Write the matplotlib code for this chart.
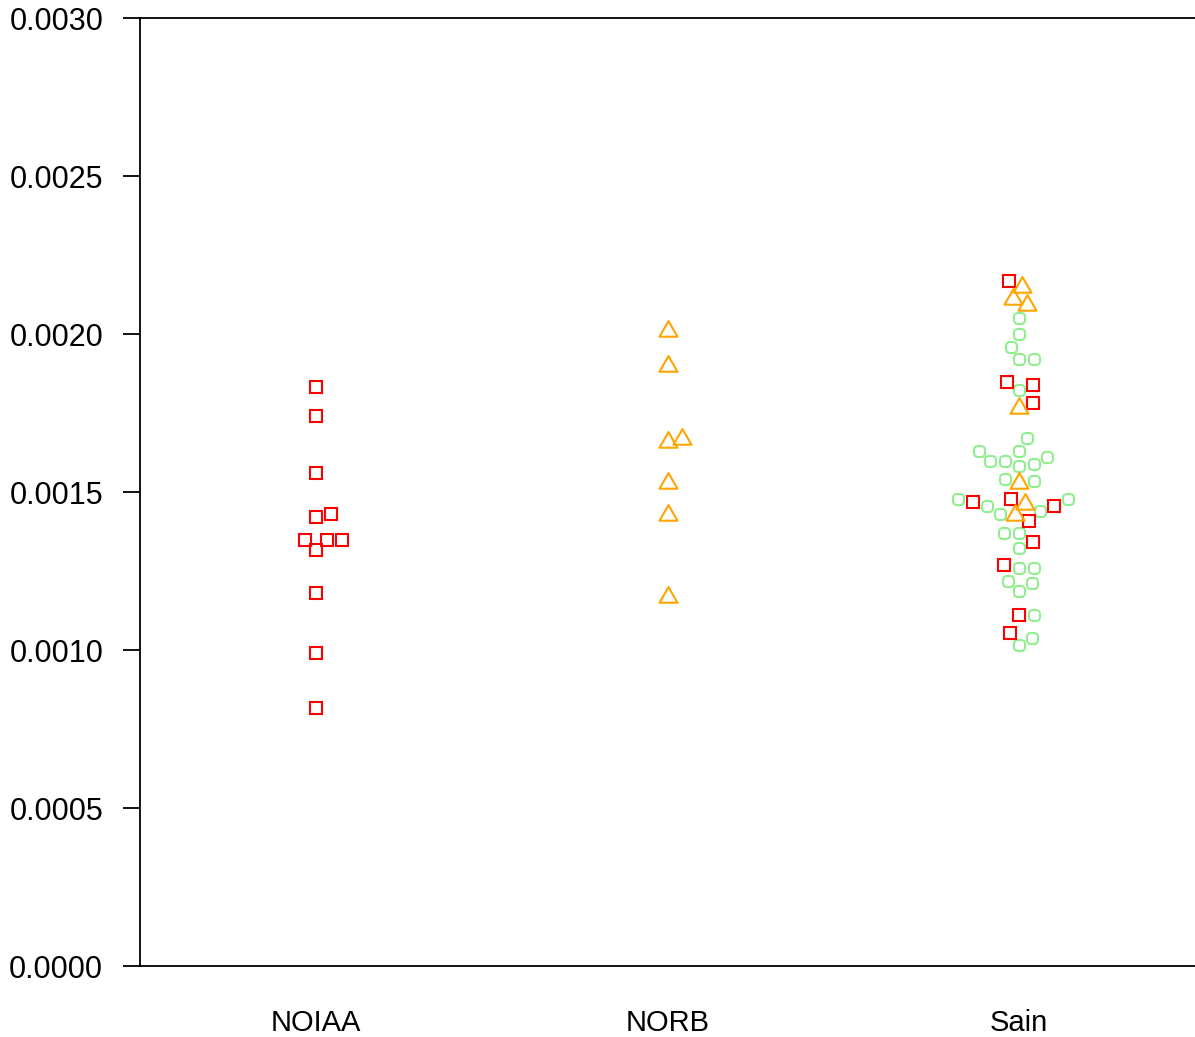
import numpy as np
import matplotlib
matplotlib.use("Agg")
import matplotlib.pyplot as plt
from matplotlib.path import Path

plt.rcParams['font.family'] = ['Liberation Sans', 'DejaVu Sans']

# ---- data ----
categories = ["NOIAA", "NORB", "Sain"]

noiaa_red = [0.001832, 0.001741, 0.001559, 0.001422, 0.001430, 0.001348,
             0.001348, 0.001348, 0.001316, 0.001179, 0.000992, 0.000815]

norb_orange = [0.002008, 0.001898, 0.001658, 0.001668, 0.001528, 0.001428, 0.001169]

sain_red = [0.0021687, 0.0018491, 0.0018386, 0.0017826, 0.0014763, 0.0014674,
            0.0014557, 0.0014082, 0.0013427, 0.0012690, 0.0011101, 0.0010528]
sain_orange = [0.0021475, 0.0021098, 0.0020918, 0.0017652, 0.0015288,
               0.0014608, 0.0014272]
sain_green = [0.0020516, 0.0019991, 0.0019598, 0.0019199, 0.0019199, 0.0018228,
              0.0016718, 0.0016307, 0.0016307, 0.0016117, 0.0015991, 0.0015991,
              0.0015886, 0.0015823, 0.0015411, 0.0015348, 0.0014769, 0.0014769,
              0.0014547, 0.0014383, 0.0014294, 0.0013712, 0.0013712, 0.0013218,
              0.0012604, 0.0012604, 0.0012184, 0.0012130, 0.0011877, 0.0011108,
              0.0010389, 0.0010158]

yticks = [0.0, 0.0005, 0.0010, 0.0015, 0.0020, 0.0025, 0.0030]
ytick_labels = ["0.0000", "0.0005", "0.0010", "0.0015", "0.0020", "0.0025", "0.0030"]

# ---- figure ----
W, H = 1195, 1037
fig = plt.figure(figsize=(W / 100, H / 100), dpi=100)
ax = fig.add_axes([140 / W, 71 / H, (W - 140) / W, (966 - 18) / H])
ax.set_xlim(-0.5, 2.5)
ax.set_ylim(0, 0.003)

# pixel scales for the swarm layout
x0, y0 = ax.transData.transform((0, 0))
x1, y1 = ax.transData.transform((1, 0.001))
px_per_cat = x1 - x0
px_per_val = (y1 - y0) / 0.001
D = 15.0  # swarm spacing in pixels


def swarm(vals):
    """beeswarm 'swarm' method, ascending priority; returns offsets in category units"""
    y = np.asarray(vals, dtype=float) * px_per_val / D
    order = np.argsort(y, kind="stable")
    off = np.zeros(len(y))
    placed = []
    for i in order:
        yi = y[i]
        pre = [j for j in placed if abs(y[j] - yi) < 1]
        if pre:
            px = off[pre]
            pyv = y[pre]
            o = np.sqrt(1 - (yi - pyv) ** 2)
            cands = np.concatenate([[0.0], px + o, px - o])
            bad = np.array([np.any((yi - pyv) ** 2 + (c - px) ** 2 < 0.999) for c in cands])
            cands = np.where(bad, np.inf, cands)
            off[i] = cands[np.argmin(np.abs(cands))]
        placed.append(i)
    return off * D / px_per_cat


tri = Path([(0, 1), (-0.866, -0.5), (0.866, -0.5), (0, 1)], closed=True)
t = np.linspace(0, 2 * np.pi, 41)
n = 3.0
ct, st = np.cos(t), np.sin(t)
sq_round = Path(np.column_stack([np.sign(ct) * np.abs(ct) ** (2 / n),
                                 np.sign(st) * np.abs(st) ** (2 / n)]), closed=True)

RED, ORANGE, GREEN = "#FF0000", "#FFA500", "#90EE90"
sq_kw = dict(marker="s", markersize=9.1, markerfacecolor="none",
             markeredgecolor=RED, markeredgewidth=1.5, linestyle="none")
tr_kw = dict(marker=tri, markersize=15, markerfacecolor="none",
             markeredgecolor=ORANGE, markeredgewidth=1.5, linestyle="none")
gr_kw = dict(marker=sq_round, markersize=8.0, markerfacecolor="none",
             markeredgecolor=GREEN, markeredgewidth=1.5, linestyle="none")

# NOIAA
off = swarm(noiaa_red)
ax.plot(0 + off, noiaa_red, **sq_kw)

# NORB
off = swarm(norb_orange)
ax.plot(1 + off, norb_orange, **tr_kw)

# Sain (all series swarmed together)
allv = sain_green + sain_red + sain_orange
off = swarm(allv)
ng, nr = len(sain_green), len(sain_red)
ax.plot(2 + off[:ng], sain_green, **gr_kw)
ax.plot(2 + off[ng:ng + nr], sain_red, **sq_kw)
ax.plot(2 + off[ng + nr:], sain_orange, **tr_kw)

# axes styling
ax.set_xticks([0, 1, 2])
ax.set_xticklabels(categories, fontsize=21)
ax.set_yticks(yticks)
ax.set_yticklabels(ytick_labels, fontsize=22)
ax.tick_params(axis="x", length=0, pad=31)
ax.tick_params(axis="y", length=12.5, width=1.3, pad=14, direction="out")
for s in ["left", "bottom", "top"]:
    ax.spines[s].set_linewidth(1.3)
ax.spines["right"].set_visible(False)

fig.savefig("out.png", dpi=100)
